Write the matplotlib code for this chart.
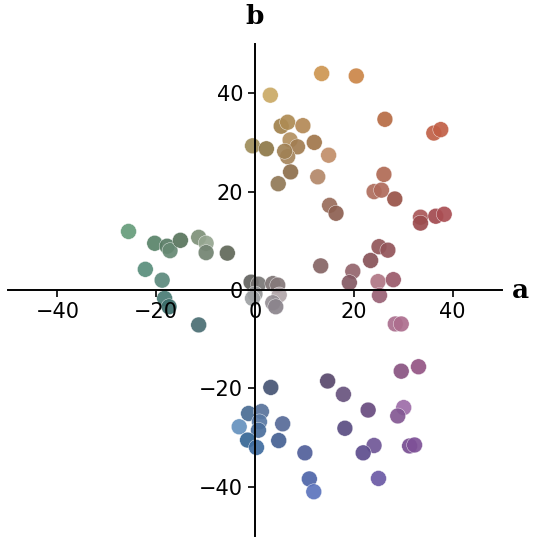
import numpy as np
import matplotlib.pyplot as plt

# CIELAB coordinates of each colour sample: a*, b*, and lightness L*
a_vals = [13.5, 20.5, 3.1, 26.3, 36.2, 37.6, 5.3, 6.6, 9.7, -0.5,
          2.3, 7.1, 8.6, 6.6, 6.0, 12.0, 14.9, 7.2, 4.7, 12.7,
          26.1, 24.1, 25.6, 28.3, 15.1, 16.4, 33.5, 33.5, 36.6, 38.3,
          25.1, 26.9, 23.4, 13.3, 19.8, 19.1, 24.9, 28.0, 25.2, 28.4,
          29.6, -25.6, -20.3, -17.8, -17.2, -15.1, -11.4, -9.9, -9.9, -5.6,
          -22.2, -18.8, -18.3, -17.4, -11.4, -0.8, 0.7, 0.0, -0.5, 3.6,
          4.6, 4.9, 3.6, 4.2, 3.2, -1.3, 1.3, -3.2, 0.9, 0.7,
          5.6, -1.5, 4.8, 0.3, 10.1, 11.0, 11.9, 14.7, 17.9, 22.9,
          18.2, 30.1, 28.9, 33.1, 29.6, 24.1, 21.9, 31.3, 32.3, 25.0]
b_vals = [44.0, 43.5, 39.6, 34.7, 31.9, 32.6, 33.3, 34.1, 33.4, 29.3,
          28.7, 30.5, 29.1, 27.1, 28.2, 30.0, 27.4, 24.0, 21.6, 23.0,
          23.5, 20.0, 20.3, 18.5, 17.2, 15.6, 14.8, 13.6, 15.0, 15.4,
          8.8, 8.1, 6.0, 4.9, 3.8, 1.5, 1.7, 2.1, -1.1, -6.9,
          -6.9, 11.9, 9.5, 8.9, 8.0, 10.1, 10.7, 9.5, 7.6, 7.5,
          4.2, 2.0, -1.7, -3.4, -7.1, 1.6, 1.2, -0.8, -1.7, 1.3,
          1.0, -1.0, -2.6, -3.4, -19.8, -25.1, -24.7, -27.8, -26.8, -28.5,
          -27.2, -30.5, -30.6, -32.0, -33.1, -38.4, -41.0, -18.5, -21.2, -24.4,
          -28.1, -23.9, -25.6, -15.6, -16.5, -31.6, -33.1, -31.7, -31.5, -38.3]
L_vals = [66, 62, 71, 53, 52, 52, 56, 60, 60, 59,
          51, 62, 55, 58, 56, 53, 63, 49, 52, 60,
          52, 53, 52, 43, 50, 45, 47, 42, 43, 45,
          44, 43, 41, 46, 48, 43, 56, 46, 48, 54,
          54, 60, 51, 49, 54, 46, 58, 66, 53, 43,
          55, 54, 48, 43, 44, 42, 50, 62, 66, 50,
          52, 69, 60, 56, 36, 45, 48, 59, 50, 46,
          45, 42, 41, 45, 42, 44, 50, 34, 39, 37,
          36, 53, 44, 45, 43, 42, 37, 40, 42, 43]


def lab_to_rgb(L, a, b):
    L, a, b = np.asarray(L, float), np.asarray(a, float), np.asarray(b, float)
    fy = (L + 16) / 116
    fx = fy + a / 500
    fz = fy - b / 200
    d = 6 / 29

    def finv(t):
        return np.where(t > d, t ** 3, 3 * d ** 2 * (t - 4 / 29))

    xyz = np.stack([0.95047 * finv(fx), finv(fy), 1.08883 * finv(fz)])
    M = np.array([[3.2406, -1.5372, -0.4986],
                  [-0.9689, 1.8758, 0.0415],
                  [0.0557, -0.2040, 1.0570]])
    rgb = M @ xyz
    rgb = np.clip(rgb, 0, 1)
    rgb = np.where(rgb <= 0.0031308, 12.92 * rgb, 1.055 * rgb ** (1 / 2.4) - 0.055)
    return np.clip(rgb.T, 0, 1)


colors = lab_to_rgb(L_vals, a_vals, b_vals)

fig = plt.figure(figsize=(5.34, 5.39), dpi=100)
ax = fig.add_axes([8 / 534, 3 / 539, 494 / 534, 492 / 539])
ax.scatter(a_vals, b_vals, c=colors, s=130, edgecolors='white',
           linewidths=0.3, alpha=0.92, zorder=1)

ax.set_xlim(-50, 50)
ax.set_ylim(-50, 50)
ax.spines['left'].set_position('zero')
ax.spines['bottom'].set_position('zero')
ax.spines['top'].set_visible(False)
ax.spines['right'].set_visible(False)
for s in ['left', 'bottom']:
    ax.spines[s].set_linewidth(1.4)
ax.set_xticks([-40, -20, 0, 20, 40])
ax.set_yticks([-40, -20, 0, 20, 40])
ax.tick_params(labelsize=15, width=1.2, length=5)

ax.text(52, 0, 'a', fontsize=19, fontweight='bold', family='DejaVu Serif',
        ha='left', va='center')
ax.text(0, 53, 'b', fontsize=19, fontweight='bold', family='DejaVu Serif',
        ha='center', va='bottom')

plt.savefig('out.png', dpi=100)
plt.close()
